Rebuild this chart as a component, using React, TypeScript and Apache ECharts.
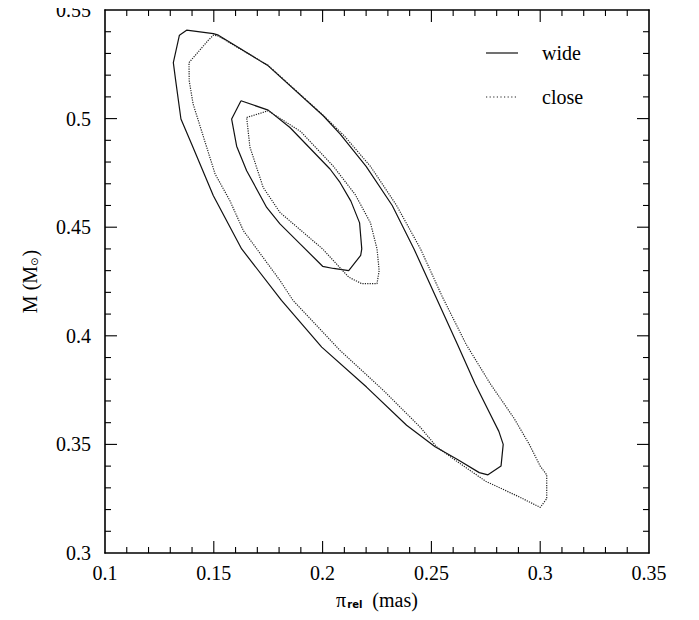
import React, { useEffect, useRef } from "react";
import * as echarts from "echarts";

// Contour outlines: [pi_rel (mas), M (Msun)]
const wideOuter: [number, number][] = [
  [0.1342, 0.5384], [0.1375, 0.5407], [0.1498, 0.5391], [0.1521, 0.5384],
  [0.1750, 0.5243], [0.2003, 0.5013], [0.2080, 0.4930], [0.2200, 0.4780],
  [0.2320, 0.4600], [0.2420, 0.4400], [0.2520, 0.4180], [0.2620, 0.3960],
  [0.2700, 0.3780], [0.2770, 0.3640], [0.2810, 0.3560], [0.2830, 0.3500],
  [0.2820, 0.3400], [0.2760, 0.3360], [0.2720, 0.3370], [0.2620, 0.3430],
  [0.2517, 0.3489], [0.2386, 0.3588], [0.2202, 0.3764], [0.1996, 0.3948],
  [0.1811, 0.4163], [0.1628, 0.4400], [0.1498, 0.4645], [0.1398, 0.4883],
  [0.1349, 0.4998], [0.1325, 0.5174], [0.1314, 0.5258], [0.1342, 0.5384],
];

const closeOuter: [number, number][] = [
  [0.1386, 0.5258], [0.1475, 0.5361], [0.1498, 0.5384], [0.1521, 0.5380],
  [0.1750, 0.5245], [0.2003, 0.5015], [0.2100, 0.4920], [0.2220, 0.4780],
  [0.2340, 0.4600], [0.2450, 0.4400], [0.2550, 0.4180], [0.2660, 0.3960],
  [0.2770, 0.3780], [0.2880, 0.3620], [0.2950, 0.3500], [0.3000, 0.3400],
  [0.3030, 0.3360], [0.3030, 0.3250], [0.3000, 0.3210], [0.2900, 0.3260],
  [0.2750, 0.3330], [0.2620, 0.3420], [0.2524, 0.3489], [0.2448, 0.3580],
  [0.2279, 0.3749], [0.2080, 0.3933], [0.1864, 0.4163], [0.1804, 0.4255],
  [0.1636, 0.4484], [0.1574, 0.4622], [0.1506, 0.4745], [0.1405, 0.5067],
  [0.1387, 0.5174], [0.1386, 0.5258],
];

const wideInner: [number, number][] = [
  [0.1625, 0.5082], [0.1750, 0.5039], [0.1850, 0.4959], [0.2034, 0.4768],
  [0.2080, 0.4706], [0.2130, 0.4620], [0.2170, 0.4520], [0.2180, 0.4400],
  [0.2175, 0.4370], [0.2120, 0.4300], [0.2050, 0.4310], [0.2000, 0.4320],
  [0.1900, 0.4420], [0.1804, 0.4515], [0.1743, 0.4591], [0.1651, 0.4760],
  [0.1605, 0.4873], [0.1582, 0.4998], [0.1625, 0.5082],
];

const closeInner: [number, number][] = [
  [0.1651, 0.5005], [0.1750, 0.5036], [0.1900, 0.4940], [0.2050, 0.4780],
  [0.2150, 0.4650], [0.2220, 0.4520], [0.2250, 0.4400], [0.2260, 0.4300],
  [0.2250, 0.4240], [0.2180, 0.4240], [0.2120, 0.4270], [0.2000, 0.4400],
  [0.1804, 0.4568], [0.1727, 0.4683], [0.1666, 0.4869], [0.1651, 0.5005],
];

const legendNames = ["wide", "close"];

// Axis ranges and tick values
const xRange = [0.1, 0.35];
const yRange = [0.3, 0.55];
const xMajorTicks = [0.15, 0.2, 0.25, 0.3];
const xMinorTicks = [0.11, 0.12, 0.13, 0.14, 0.16, 0.17, 0.18, 0.19, 0.21, 0.22, 0.23, 0.24, 0.26, 0.27, 0.28, 0.29, 0.31, 0.32, 0.33, 0.34];
const yMajorTicks = [0.35, 0.4, 0.45, 0.5];
const yMinorTicks = [0.31, 0.32, 0.33, 0.34, 0.36, 0.37, 0.38, 0.39, 0.41, 0.42, 0.43, 0.44, 0.46, 0.47, 0.48, 0.49, 0.51, 0.52, 0.53, 0.54];

const FONT = "'Liberation Serif', 'Times New Roman', serif";

export default function App() {
  const ref = useRef<HTMLDivElement>(null);
  useEffect(() => {
    if (!ref.current) return;
    const chart = echarts.init(ref.current, undefined, { renderer: "svg" });
    const mkAxis = (min: number, max: number, position: string, labels: boolean, extra: any) => ({
      type: "value",
      min,
      max,
      interval: 0.05,
      position,
      axisLine: { show: true, lineStyle: { color: "#000", width: 1.6 } },
      axisTick: { show: false },
      minorTick: { show: false },
      splitLine: { show: false },
      axisLabel: labels
        ? { show: true, color: "#000", fontFamily: FONT, fontSize: 20, ...extra }
        : { show: false },
    });
    const mk = (data: [number, number][], dotted: boolean) => ({
      type: "line",
      data,
      symbol: "none",
      lineStyle: { color: dotted ? "#222" : "#111", width: 1.2, type: dotted ? "dotted" : "solid" },
    });
    // tick data: [value, 0 = x axis / 1 = y axis, 1 = major / 0 = minor]
    const tickData: number[][] = [
      ...xMajorTicks.map((v) => [v, 0, 1]),
      ...xMinorTicks.map((v) => [v, 0, 0]),
      ...yMajorTicks.map((v) => [v, 1, 1]),
      ...yMinorTicks.map((v) => [v, 1, 0]),
    ];
    const tickStyle = { stroke: "#000", lineWidth: 1.1 };
    const tickSeries = {
      type: "custom",
      coordinateSystem: "cartesian2d",
      data: tickData,
      encode: { x: 0 },
      z: 10,
      renderItem: (params: any, api: any) => {
        const v = api.value(0);
        const isY = api.value(1) === 1;
        const len = api.value(2) === 1 ? 12 : 6;
        if (!isY) {
          const b = api.coord([v, yRange[0]]);
          const t = api.coord([v, yRange[1]]);
          return {
            type: "group",
            children: [
              { type: "line", shape: { x1: b[0], y1: b[1], x2: b[0], y2: b[1] - len }, style: tickStyle },
              { type: "line", shape: { x1: t[0], y1: t[1], x2: t[0], y2: t[1] + len }, style: tickStyle },
            ],
          };
        }
        const l = api.coord([xRange[0], v]);
        const r = api.coord([xRange[1], v]);
        return {
          type: "group",
          children: [
            { type: "line", shape: { x1: l[0], y1: l[1], x2: l[0] + len, y2: l[1] }, style: tickStyle },
            { type: "line", shape: { x1: r[0], y1: r[1], x2: r[0] - len, y2: r[1] }, style: tickStyle },
          ],
        };
      },
    };
    chart.setOption({
      animation: false,
      backgroundColor: "#fff",
      grid: { left: 105, right: 50, top: 9, bottom: 67 },
      xAxis: [
        {
          ...mkAxis(xRange[0], xRange[1], "bottom", true, { margin: 10 }),
          name: "{a|π}{s|rel}{a| (mas)}",
          nameLocation: "middle",
          nameGap: 36,
          nameTextStyle: {
            rich: {
              a: { fontFamily: FONT, fontSize: 20, color: "#000", lineHeight: 22 },
              s: { fontFamily: "'DejaVu Sans', sans-serif", fontSize: 10, fontWeight: "bold", color: "#000", padding: [8, 5, 0, 1], lineHeight: 22 },
            },
          },
        },
        mkAxis(xRange[0], xRange[1], "top", false, {}),
      ],
      yAxis: [
        {
          ...mkAxis(yRange[0], yRange[1], "left", true, { margin: 14 }),
          name: "{a|M (M}{s|⊙}{a|)}",
          nameLocation: "middle",
          nameGap: 64,
          nameTextStyle: {
            rich: {
              a: { fontFamily: FONT, fontSize: 20, color: "#000", lineHeight: 22 },
              s: { fontFamily: "'DejaVu Sans', sans-serif", fontSize: 10, color: "#000", padding: [8, 1, 0, 0], lineHeight: 22 },
            },
          },
        },
        mkAxis(yRange[0], yRange[1], "right", false, {}),
      ],
      series: [
        mk(wideOuter, false),
        mk(wideInner, false),
        mk(closeOuter, true),
        mk(closeInner, true),
        tickSeries,
      ],
      graphic: [
        { type: "line", shape: { x1: 486, y1: 53, x2: 518, y2: 53 }, style: { stroke: "#111", lineWidth: 1.2 } },
        { type: "line", shape: { x1: 486, y1: 97, x2: 518, y2: 97 }, style: { stroke: "#222", lineWidth: 1.2, lineDash: [1.2, 2.4] } },
        { type: "text", x: 542, y: 53, style: { text: legendNames[0], fontFamily: FONT, fontSize: 20, fill: "#000", verticalAlign: "middle" } },
        { type: "text", x: 542, y: 97, style: { text: legendNames[1], fontFamily: FONT, fontSize: 20, fill: "#000", verticalAlign: "middle" } },
      ],
    });
    return () => chart.dispose();
  }, []);
  return <div ref={ref} style={{ width: 699, height: 620, margin: -8 }} />;
}
